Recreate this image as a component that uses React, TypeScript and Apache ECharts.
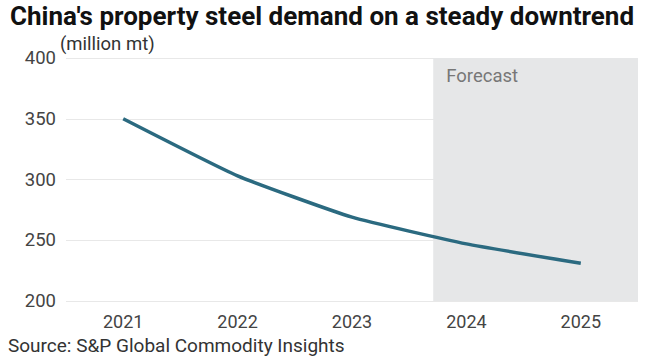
import React, { useEffect, useRef } from "react";
import * as echarts from "echarts";

const categories = ["2021", "2022", "2023", "2024", "2025"];
const demand = [350, 303, 269, 247, 231];
const forecastRange = [2.71, 4.5];
const yTicks = { min: 200, max: 400, interval: 50 };

export default function App() {
  const ref = useRef<HTMLDivElement>(null);
  useEffect(() => {
    if (!ref.current) return;
    const chart = echarts.init(ref.current, null, { renderer: "svg" });
    const font = "Roboto, 'Liberation Sans', sans-serif";
    chart.setOption({
      animation: false,
      backgroundColor: "#ffffff",
      textStyle: { fontFamily: font },
      title: [
        {
          text: "China's property steel demand on a steady downtrend",
          left: 5,
          top: -2,
          textStyle: { fontSize: 26, fontWeight: "bold", color: "#111", fontFamily: font },
        },
        {
          text: "(million mt)",
          left: 55,
          top: 29,
          textStyle: { fontSize: 18.5, fontWeight: "normal", color: "#333", fontFamily: font },
        },
        {
          text: "Source: S&P Global Commodity Insights",
          left: 3,
          top: 331,
          textStyle: { fontSize: 19, fontWeight: "normal", color: "#333", fontFamily: font },
        },
      ],
      grid: { left: 66, right: 8, top: 58, bottom: 58 },
      xAxis: [
        {
          type: "category",
          data: categories,
          boundaryGap: true,
          axisLine: { show: false },
          axisTick: { show: false },
          axisLabel: { color: "#444", fontSize: 18, margin: 11, fontFamily: font },
        },
        {
          type: "value",
          min: -0.5,
          max: 4.5,
          show: false,
        },
      ],
      yAxis: {
        type: "value",
        min: yTicks.min,
        max: yTicks.max,
        interval: yTicks.interval,
        axisLine: { show: false },
        axisTick: { show: false },
        axisLabel: { color: "#444", fontSize: 18.5, margin: 10, fontFamily: font },
        splitLine: { lineStyle: { color: "#e8e8e8", width: 1 } },
      },
      series: [
        {
          type: "line",
          xAxisIndex: 1,
          yAxisIndex: 0,
          data: [],
          silent: true,
          markArea: {
            silent: true,
            itemStyle: { color: "#e6e7e8" },
            label: {
              show: true,
              position: "insideTopLeft",
              distance: 8,
              offset: [5, 0],
              color: "#777",
              fontSize: 18.5,
              fontFamily: font,
            },
            data: [[{ name: "Forecast", xAxis: forecastRange[0] }, { xAxis: forecastRange[1] }]],
          },
          z: 1,
        },
        {
          type: "line",
          data: demand,
          smooth: 0.15,
          symbol: "none",
          lineStyle: { color: "#2b6a80", width: 3.5 },
          z: 3,
        },
      ],
    });
    return () => chart.dispose();
  }, []);
  return <div ref={ref} style={{ width: 646, height: 359, position: "absolute", left: 0, top: 0 }} />;
}
